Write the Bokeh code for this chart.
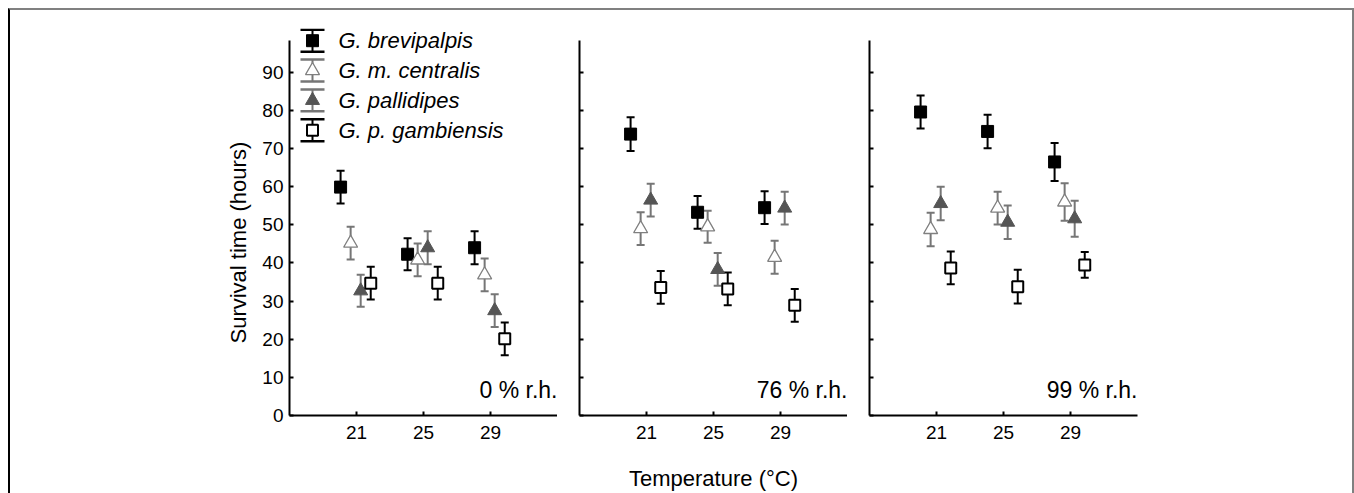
import math
from bokeh.plotting import figure
from bokeh.models import ColumnDataSource, Whisker, TeeHead, FixedTicker, Label, Range1d, Title
from bokeh.layouts import row
from bokeh.embed import file_html
from bokeh.resources import INLINE
from bokeh.core.properties import value

# ---------------- data ----------------
temperatures = [21, 25, 29]
species = ["G. brevipalpis", "G. m. centralis", "G. pallidipes", "G. p. gambiensis"]
panel_labels = ["0 % r.h.", "76 % r.h.", "99 % r.h."]
y_ticks = [0, 10, 20, 30, 40, 50, 60, 70, 80, 90]

# 0 % r.h. : mean survival time (hours) at 21, 25, 29 °C
rh0_brevipalpis = [59.9, 42.3, 44.0]
rh0_centralis = [45.2, 40.8, 36.9]
rh0_pallidipes = [32.7, 44.0, 27.5]
rh0_gambiensis = [34.7, 34.7, 20.1]
rh0_brevipalpis_err = [4.3, 4.2, 4.3]
rh0_centralis_err = [4.3, 4.3, 4.3]
rh0_pallidipes_err = [4.2, 4.3, 4.3]
rh0_gambiensis_err = [4.3, 4.3, 4.3]

# 76 % r.h.
rh76_brevipalpis = [73.8, 53.3, 54.5]
rh76_centralis = [49.0, 49.5, 41.5]
rh76_pallidipes = [56.5, 38.3, 54.4]
rh76_gambiensis = [33.6, 33.2, 28.9]
rh76_brevipalpis_err = [4.4, 4.3, 4.3]
rh76_centralis_err = [4.3, 4.2, 4.3]
rh76_pallidipes_err = [4.3, 4.3, 4.3]
rh76_gambiensis_err = [4.3, 4.3, 4.3]

# 99 % r.h.
rh99_brevipalpis = [79.6, 74.5, 66.5]
rh99_centralis = [48.8, 54.4, 56.0]
rh99_pallidipes = [55.6, 50.7, 51.6]
rh99_gambiensis = [38.7, 33.8, 39.5]
rh99_brevipalpis_err = [4.3, 4.4, 5.0]
rh99_centralis_err = [4.4, 4.3, 4.9]
rh99_pallidipes_err = [4.4, 4.4, 4.7]
rh99_gambiensis_err = [4.3, 4.4, 3.4]

panel_means = [
    [rh0_brevipalpis, rh0_centralis, rh0_pallidipes, rh0_gambiensis],
    [rh76_brevipalpis, rh76_centralis, rh76_pallidipes, rh76_gambiensis],
    [rh99_brevipalpis, rh99_centralis, rh99_pallidipes, rh99_gambiensis],
]
panel_errs = [
    [rh0_brevipalpis_err, rh0_centralis_err, rh0_pallidipes_err, rh0_gambiensis_err],
    [rh76_brevipalpis_err, rh76_centralis_err, rh76_pallidipes_err, rh76_gambiensis_err],
    [rh99_brevipalpis_err, rh99_centralis_err, rh99_pallidipes_err, rh99_gambiensis_err],
]

# ---------------- styles ----------------
FONT = "Liberation Sans"
offsets = [-0.95, -0.35, 0.25, 0.85]
GRAY_BAR = "#767676"
styles = [
    dict(marker="square", size=12, fill_color="black", line_color="black", line_width=1, bar="black"),
    dict(marker="triangle", size=14, fill_color="white", line_color="#808080", line_width=1.3, bar=GRAY_BAR),
    dict(marker="triangle", size=14, fill_color="#555555", line_color="#555555", line_width=1, bar=GRAY_BAR),
    dict(marker="square", size=11, fill_color="white", line_color="black", line_width=2, bar="black"),
]

X0, X1 = 17, 33
Y0, Y1 = 0, 101.5
AXIS_TOP = 98.3
FRAME_W = 268
FRAME_H = 389
TOP = 18
BOTTOM = 76
PX_X = FRAME_W / (X1 - X0)
PX_Y = FRAME_H / (Y1 - Y0)


def make_panel(i):
    left = 279 if i == 0 else 22
    right = 215 if i == 2 else 0
    p = figure(width=left + FRAME_W + right, height=TOP + FRAME_H + BOTTOM,
               x_range=Range1d(X0, X1), y_range=Range1d(Y0, Y1),
               output_backend="svg", toolbar_location=None,
               min_border_left=left, min_border_right=right,
               min_border_top=TOP, min_border_bottom=BOTTOM)
    p.outline_line_color = None
    p.grid.visible = False
    p.background_fill_color = "white"
    p.border_fill_color = "white"

    for ax in (p.xaxis[0], p.yaxis[0]):
        ax.axis_line_width = 2
        ax.axis_line_color = "black"
        ax.major_tick_line_width = 2
        ax.major_tick_line_color = "black"
        ax.major_tick_in = 4
        ax.major_tick_out = 0
        ax.minor_tick_line_color = None
        ax.major_label_text_font = FONT
        ax.major_label_text_color = "black"
    p.xaxis.ticker = FixedTicker(ticks=temperatures)
    p.xaxis.major_label_text_font_size = "19px"
    p.xaxis.major_label_standoff = 10
    p.yaxis.ticker = FixedTicker(ticks=y_ticks)
    p.yaxis.bounds = (Y0, AXIS_TOP)
    if i == 0:
        p.yaxis.major_label_text_font_size = "19px"
        p.yaxis.major_label_standoff = 6
    else:
        p.yaxis.major_label_text_font_size = "0px"
        p.yaxis.major_label_standoff = 0
    if i == 1:
        p.xaxis.axis_label = "Temperature (°C)"
        p.xaxis.axis_label_text_font = FONT
        p.xaxis.axis_label_text_font_size = "22px"
        p.xaxis.axis_label_text_font_style = "normal"
        p.xaxis.axis_label_text_color = "black"
        p.xaxis.axis_label_standoff = 24

    for s, st in enumerate(styles):
        m = panel_means[i][s]
        e = panel_errs[i][s]
        src = ColumnDataSource(dict(
            x=[t + offsets[s] for t in temperatures],
            y=m,
            lo=[a - b for a, b in zip(m, e)],
            hi=[a + b for a, b in zip(m, e)],
        ))
        w = Whisker(source=src, base="x", lower="lo", upper="hi", dimension="height",
                    line_color=st["bar"], line_width=2, level="underlay",
                    lower_head=TeeHead(size=8, line_color=st["bar"], line_width=2),
                    upper_head=TeeHead(size=8, line_color=st["bar"], line_width=2))
        p.add_layout(w)
        p.scatter("x", "y", source=src, marker=st["marker"], size=st["size"],
                  fill_color=st["fill_color"], line_color=st["line_color"],
                  line_width=st["line_width"])

    p.add_layout(Label(x=X1, y=6.6, text=panel_labels[i], text_align="right",
                       text_baseline="alphabetic", text_font=FONT,
                       text_font_size="23px", text_color="black"))
    return p


panels = [make_panel(i) for i in range(3)]

# y axis title on the first panel
p0 = panels[0]
p0.add_layout(Title(text="Survival time (hours)", align="left", offset=72,
                    standoff=17, text_font=FONT, text_font_size="22px",
                    text_font_style="normal", text_color="black"), "left")

# legend drawn inside the first panel
LEG_X = X0 + 23 / PX_X
LEG_TEXT_X = X0 + 49 / PX_X
LEG_TOP = 98.3
LEG_STEP = 30 / PX_Y
LEG_HALF = 11 / PX_Y
for s, st in enumerate(styles):
    ly = LEG_TOP - s * LEG_STEP
    lsrc = ColumnDataSource(dict(x=[LEG_X], y=[ly], lo=[ly - LEG_HALF], hi=[ly + LEG_HALF],
                                 name=[species[s]], tx=[LEG_TEXT_X]))
    p0.add_layout(Whisker(source=lsrc, base="x", lower="lo", upper="hi", dimension="height",
                          line_color=st["bar"], line_width=2, level="underlay",
                          lower_head=TeeHead(size=24, line_color=st["bar"], line_width=2.5),
                          upper_head=TeeHead(size=24, line_color=st["bar"], line_width=2.5)))
    p0.scatter("x", "y", source=lsrc, marker=st["marker"], size=st["size"],
               fill_color=st["fill_color"], line_color=st["line_color"],
               line_width=st["line_width"])
    p0.text("tx", "y", text="name", source=lsrc, text_font=value(FONT),
            text_font_style="italic", text_font_size="22px", text_color="black",
            text_align="left", text_baseline="middle")

layout = row(panels, spacing=0, margin=(8, 0, 0, 8),
             styles={"border-top": "2px solid #808080",
                     "border-left": "2px solid #000000",
                     "border-right": "2px solid #808080"})

open("out.html", "w").write(file_html(layout, INLINE))
